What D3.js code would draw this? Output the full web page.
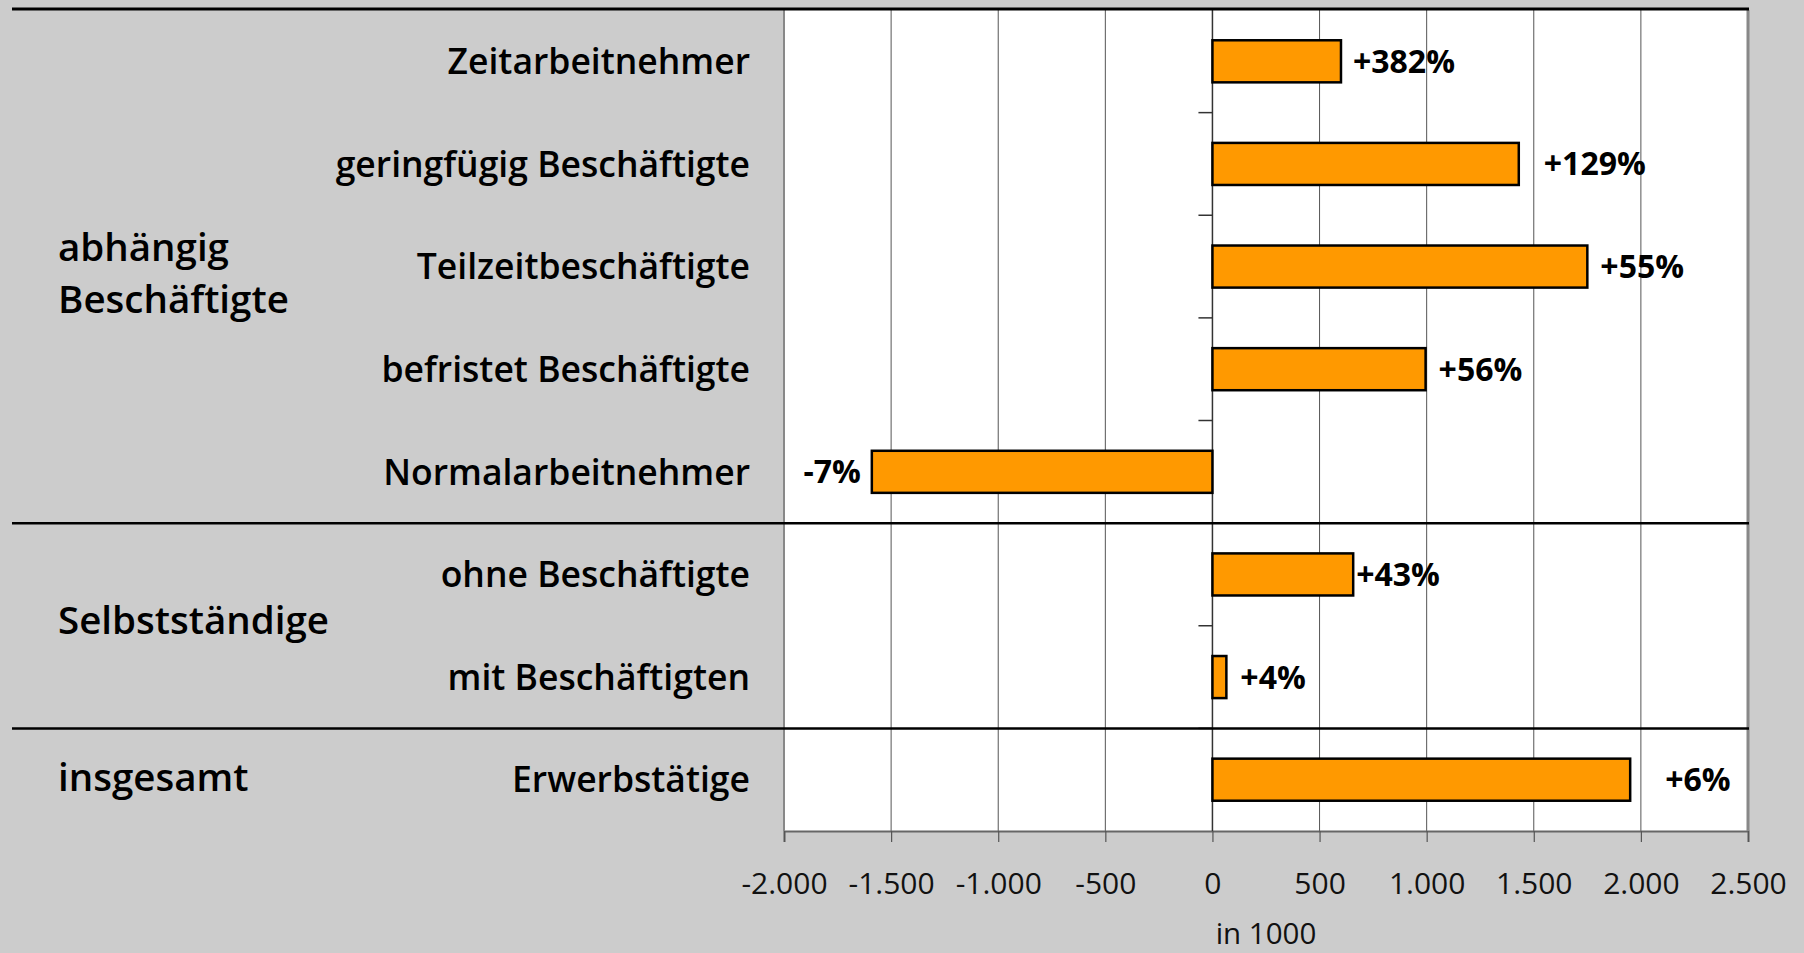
<!DOCTYPE html>
<html>
<head>
<meta charset="utf-8">
<script src="https://cdn.jsdelivr.net/npm/d3@7"></script>
<style>
  html, body { margin: 0; padding: 0; background: #cccccc; }
  svg { display: block; }
</style>
</head>
<body>
<svg id="chart" width="1804" height="953"></svg>
<script>
// ---- data ----
const categories = ["Zeitarbeitnehmer", "geringfügig Beschäftigte", "Teilzeitbeschäftigte",
  "befristet Beschäftigte", "Normalarbeitnehmer", "ohne Beschäftigte", "mit Beschäftigten", "Erwerbstätige"];
const values = [600, 1430, 1750, 995, -1590, 657, 65, 1950];           // change in 1000
const changeLabels = ["+382%", "+129%", "+55%", "+56%", "-7%", "+43%", "+4%", "+6%"];
const groupNames = [["abhängig", "Beschäftigte"], ["Selbstständige"], ["insgesamt"]];
const groupOf = [0, 0, 0, 0, 0, 1, 1, 2];
const xTicks = [-2000, -1500, -1000, -500, 0, 500, 1000, 1500, 2000, 2500];
const xDomain = [-2000, 2500];
const axisTitle = "in 1000";

// ---- layout (not data) ----
const labelGap = [12, 25, 13, 13, 11, 3, 14, 35];
const groupShift = [7, -5, -2];
const plot = { left: 784, right: 1748, top: 10, bottom: 831 };
const labelRight = 750, groupLeft = 58;
const FONT = "'Open Sans', 'Noto Sans', sans-serif";

const svg = d3.select("#chart");
svg.append("rect").attr("width", 1804).attr("height", 953).attr("fill", "#cccccc");

const x = d3.scaleLinear().domain(xDomain).range([plot.left, plot.right]);
const y = d3.scaleBand().domain(categories).range([plot.top, plot.bottom])
  .paddingInner(0.59).paddingOuter(0.295);
const step = y.step();
const boundary = k => plot.top + k * step;

const de = d3.formatLocale({ decimal: ",", thousands: ".", grouping: [3], currency: ["", " €"], minus: "-" });
const fmt = de.format(",.0f");

// plot background
svg.append("rect").attr("x", plot.left).attr("y", plot.top)
  .attr("width", plot.right - plot.left).attr("height", plot.bottom - plot.top).attr("fill", "#ffffff");

// gridlines
svg.append("g").selectAll("line").data(xTicks.filter(t => t !== xDomain[0] && t !== xDomain[1] && t !== 0))
  .join("line")
  .attr("x1", d => x(d)).attr("x2", d => x(d))
  .attr("y1", plot.top).attr("y2", plot.bottom)
  .attr("stroke", "#555").attr("stroke-width", 1);

// x axis (bottom)
const xAxis = d3.axisBottom(x).tickValues(xTicks).tickFormat(fmt).tickSize(11).tickPadding(31);
const gx = svg.append("g").attr("transform", `translate(0,${plot.bottom})`).call(xAxis);
gx.select(".domain").attr("stroke", "#666").attr("stroke-width", 2);
gx.selectAll(".tick line").attr("stroke", "#555").attr("stroke-width", 1.2);
gx.selectAll(".tick text").attr("font-family", FONT).attr("font-size", 30)
  .attr("fill", "#111").attr("dy", "0.71em");

// axis title
svg.append("text").attr("x", (plot.left + plot.right) / 2).attr("y", 944)
  .attr("text-anchor", "middle").attr("font-family", FONT).attr("font-size", 29.5)
  .attr("fill", "#111").text(axisTitle);

// zero line + category ticks
svg.append("line").attr("x1", x(0)).attr("x2", x(0)).attr("y1", plot.top).attr("y2", plot.bottom)
  .attr("stroke", "#333").attr("stroke-width", 1.5);
svg.append("g").selectAll("line").data(d3.range(1, categories.length))
  .join("line")
  .attr("x1", x(0) - 14).attr("x2", x(0))
  .attr("y1", k => boundary(k)).attr("y2", k => boundary(k))
  .attr("stroke", "#333").attr("stroke-width", 1.5);

// bars
svg.append("g").selectAll("rect").data(values).join("rect")
  .attr("x", d => x(Math.min(0, d)))
  .attr("width", d => Math.abs(x(d) - x(0)))
  .attr("y", (d, i) => y(categories[i]))
  .attr("height", y.bandwidth())
  .attr("fill", "#ff9900").attr("stroke", "#000").attr("stroke-width", 2.5);

// value labels
svg.append("g").selectAll("text").data(values).join("text")
  .attr("x", (d, i) => d >= 0 ? x(d) + labelGap[i] : x(d) - labelGap[i])
  .attr("y", (d, i) => y(categories[i]) + y.bandwidth() / 2)
  .attr("dy", "0.36em")
  .attr("text-anchor", d => d >= 0 ? "start" : "end")
  .attr("font-family", FONT).attr("font-weight", 700).attr("font-size", 32)
  .attr("fill", "#000")
  .text((d, i) => changeLabels[i]);

// category labels
svg.append("g").selectAll("text").data(categories).join("text")
  .attr("x", labelRight)
  .attr("y", d => y(d) + y.bandwidth() / 2)
  .attr("dy", "0.36em")
  .attr("text-anchor", "end")
  .attr("font-family", FONT).attr("font-weight", 600).attr("font-size", 35.5)
  .attr("fill", "#000")
  .text(d => d);

// group labels
groupNames.forEach((lines, g) => {
  const idx = groupOf.map((v, i) => v === g ? i : -1).filter(i => i >= 0);
  const cy = d3.mean(idx, i => y(categories[i]) + y.bandwidth() / 2) + groupShift[g];
  const lh = 52;
  const t = svg.append("text").attr("x", groupLeft)
    .attr("font-family", FONT).attr("font-weight", 600).attr("font-size", 38.5).attr("fill", "#000");
  lines.forEach((ln, j) => {
    t.append("tspan").attr("x", groupLeft)
      .attr("y", cy + 13.5 + (j - (lines.length - 1) / 2) * lh)
      .text(ln);
  });
});

// plot borders
svg.append("line").attr("x1", plot.left).attr("x2", plot.left).attr("y1", plot.top).attr("y2", plot.bottom)
  .attr("stroke", "#888").attr("stroke-width", 2);
svg.append("line").attr("x1", plot.right).attr("x2", plot.right).attr("y1", plot.top).attr("y2", plot.bottom)
  .attr("stroke", "#888").attr("stroke-width", 3);

// separators (top line and between groups)
const sepK = [0].concat(d3.range(1, categories.length).filter(k => groupOf[k] !== groupOf[k - 1]));
svg.append("g").selectAll("line").data(sepK).join("line")
  .attr("x1", 12).attr("x2", plot.right + 1)
  .attr("y1", k => k === 0 ? boundary(0) - 1 : boundary(k))
  .attr("y2", k => k === 0 ? boundary(0) - 1 : boundary(k))
  .attr("stroke", "#000").attr("stroke-width", k => k === 0 ? 3 : 2.5);
</script>
</body>
</html>
